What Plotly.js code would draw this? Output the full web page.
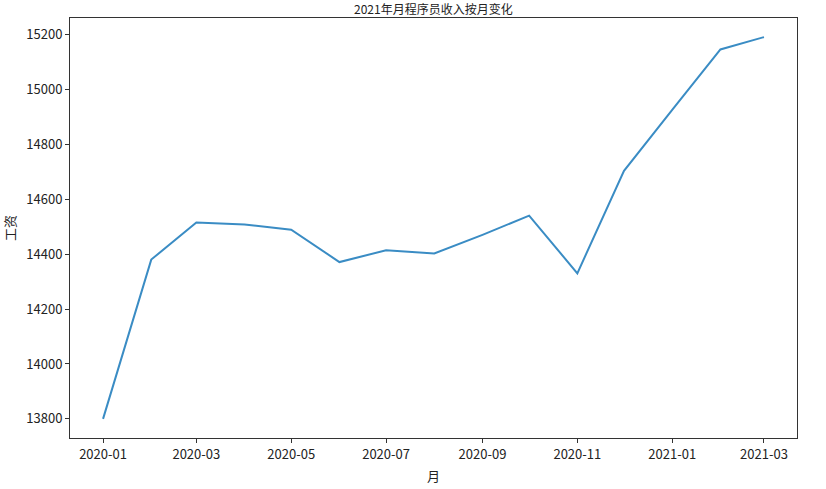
<!DOCTYPE html>
<html>
<head>
<meta charset="utf-8">
<script src="https://cdn.plot.ly/plotly-3.0.1.min.js"></script>
<style>html,body{margin:0;padding:0;background:#fff;}#chart{width:826px;height:489px;}</style>
</head>
<body>
<div id="chart"></div>
<script>
const months = ["2020-01-01","2020-02-01","2020-03-01","2020-04-01","2020-05-01","2020-06-01","2020-07-01","2020-08-01","2020-09-01","2020-10-01","2020-11-01","2020-12-01","2021-01-01","2021-02-01","2021-03-01"];
const salary = [13800, 14380, 14515, 14508, 14489, 14371, 14414, 14402, 14470, 14540, 14330, 14703, 14925, 15145, 15190];
const titleText = "2021年月程序员收入按月变化";
const xLabel = "月";
const yLabel = "工资";

const font = "'Noto Sans CJK SC', 'Noto Sans', sans-serif";
const axisCommon = {
  showline: true, mirror: true, linecolor: '#333', linewidth: 1,
  ticks: 'outside', ticklen: 4, tickcolor: '#333', tickwidth: 1,
  showgrid: false, zeroline: false,
  tickfont: {family: font, size: 13, color: '#222'}
};
Plotly.newPlot('chart', [{
  x: months, y: salary, type: 'scatter', mode: 'lines',
  line: {color: '#3a8cc4', width: 2}
}], {
  width: 826, height: 489,
  margin: {l: 70, r: 29, t: 18, b: 51},
  paper_bgcolor: '#fff', plot_bgcolor: '#fff',
  showlegend: false,
  annotations: [{
    text: titleText, xref: 'paper', yref: 'paper', x: 0.5, y: 1,
    xanchor: 'center', yanchor: 'bottom', showarrow: false, borderpad: 0, yshift: 0,
    font: {family: font, size: 12, color: '#222'}
  }],
  xaxis: Object.assign({}, axisCommon, {
    type: 'date', range: ['2019-12-10 18:00', '2021-03-22 06:00'],
    tick0: '2020-01-01', dtick: 'M2', tickformat: '%Y-%m',
    title: {text: xLabel, font: {family: font, size: 13, color: '#222'}, standoff: 10}
  }),
  yaxis: Object.assign({}, axisCommon, {
    range: [13730.5, 15259.5], tick0: 13800, dtick: 200, tickformat: 'd',
    title: {text: yLabel, font: {family: font, size: 13, color: '#222'}, standoff: 14}
  })
}, {displayModeBar: false, staticPlot: true});
</script>
</body>
</html>
